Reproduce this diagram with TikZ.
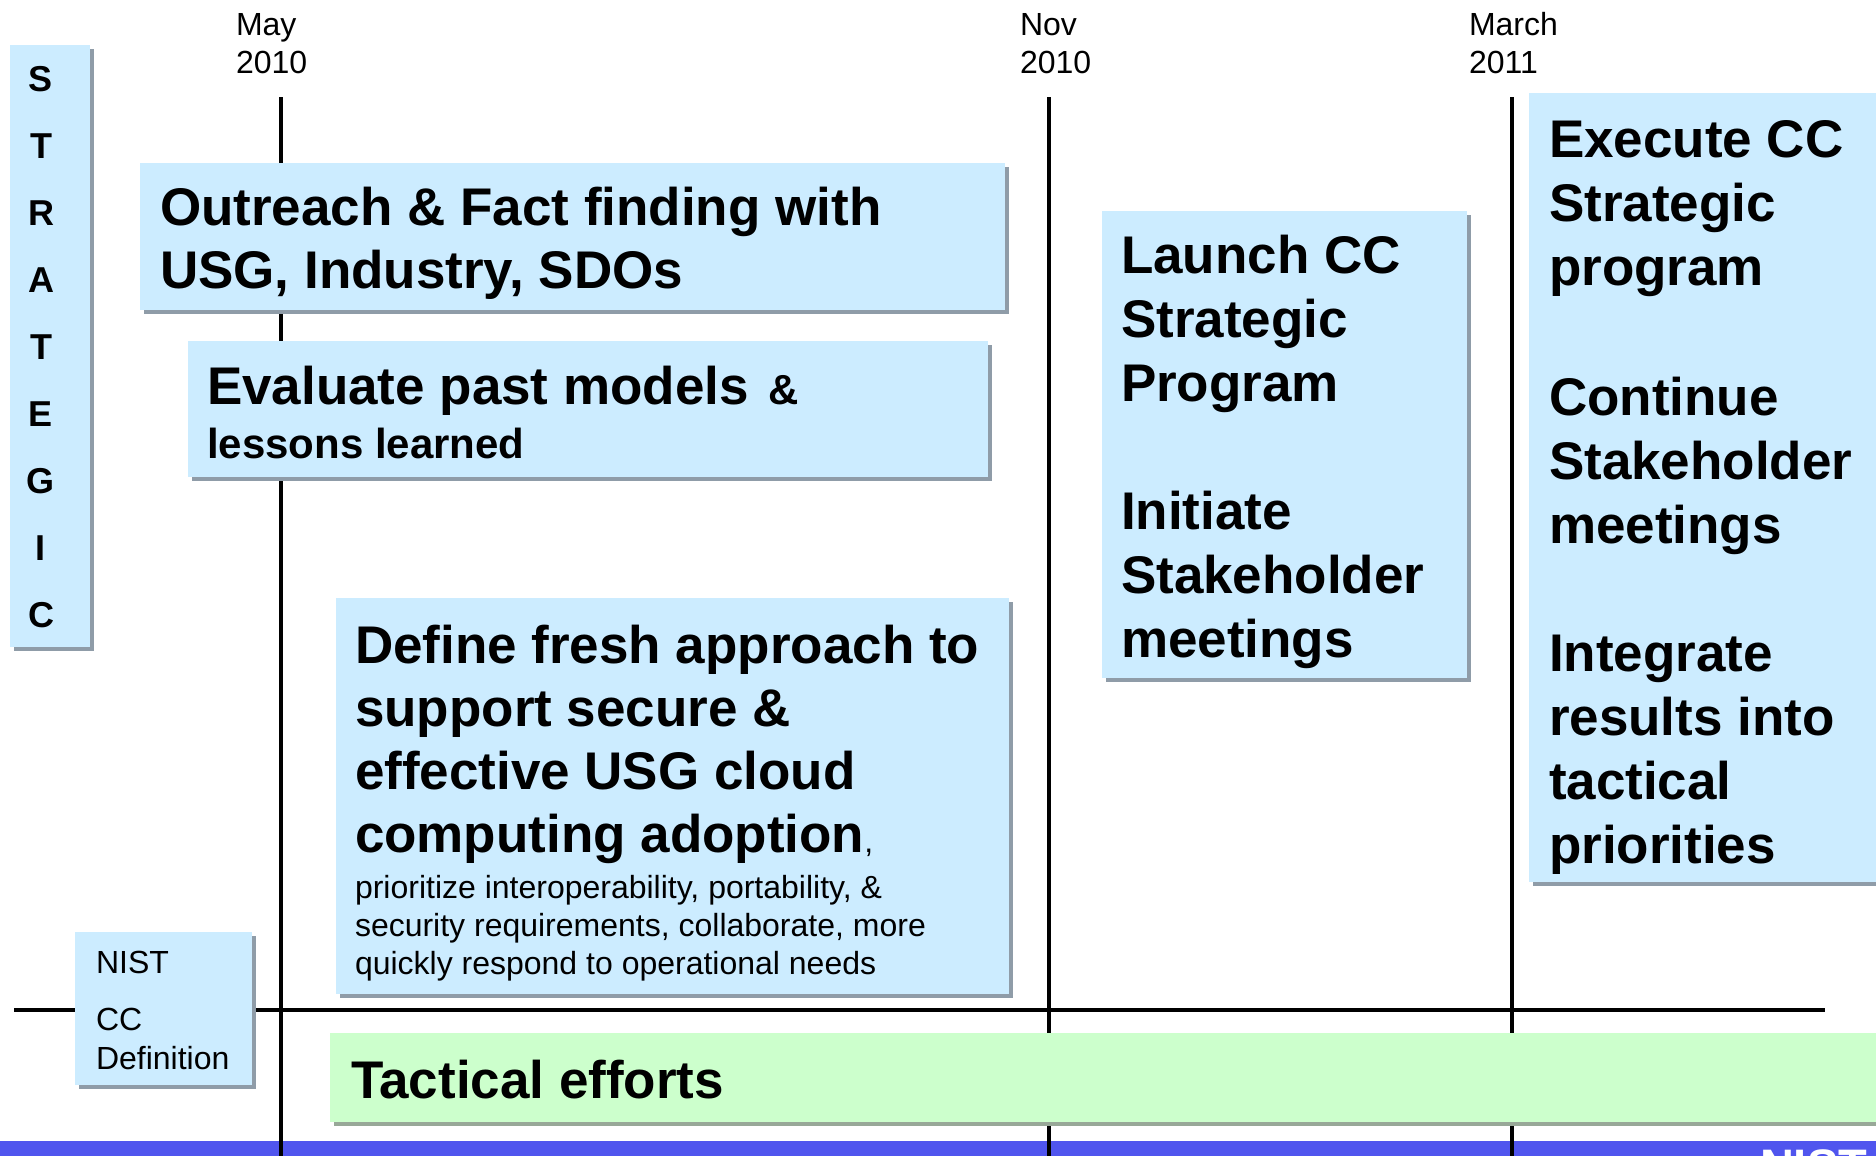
\documentclass[tikz,border=0pt]{standalone}
\usepackage{fontspec}
\setmainfont{Liberation Sans}
\usetikzlibrary{shadows}
\definecolor{boxblue}{HTML}{CCECFF}
\definecolor{boxgreen}{HTML}{CCFFCC}
\definecolor{shadowgray}{HTML}{8F9CA8}
\definecolor{greenshadow}{HTML}{98A898}
\definecolor{barblue}{HTML}{5055EE}
\definecolor{linegray}{HTML}{8C8C8C}
\newcommand{\mlines}[1]{\begin{tabular}[t]{@{}l@{}}#1\end{tabular}}
\tikzset{
  boxbase/.style={rectangle, inner sep=0pt, outer sep=0pt, anchor=north west},
  bluebox/.style={boxbase, fill=boxblue,
    drop shadow={shadow xshift=4pt, shadow yshift=-4pt, fill=shadowgray, opacity=1}},
  greenbox/.style={boxbase, fill=boxgreen,
    drop shadow={shadow xshift=4pt, shadow yshift=-4pt, fill=greenshadow, opacity=1}},
  txt/.style={anchor=base west, inner sep=0pt, outer sep=0pt},
  bigtxt/.style={txt, font=\fontsize{53}{63}\selectfont\bfseries},
  midtxt/.style={txt, font=\fontsize{42}{50}\selectfont\bfseries},
  smalltxt/.style={txt, font=\fontsize{32}{38}\selectfont},
  lettxt/.style={anchor=center, inner sep=0pt, font=\fontsize{36}{40}\selectfont\bfseries},
  railgray/.style={draw=linegray, line width=3pt},
  railblack/.style={draw=black, line width=3.4pt},
}
\begin{document}
\begin{tikzpicture}[x=1pt,y=-1pt]
\useasboundingbox (0,0) rectangle (1876,1156);
\clip (0,0) rectangle (1876,1156);

% bottom bar
\fill[barblue] (0,1141) rectangle (1876,1156);

% timeline rails
\coordinate (mayTop) at (281,97);   \coordinate (mayBot) at (281,1160);
\coordinate (novTop) at (1049,97);  \coordinate (novBot) at (1049,1160);
\coordinate (marTop) at (1512,97);  \coordinate (marBot) at (1512,1160);
\coordinate (hLeft) at (14,1010);   \coordinate (hRight) at (1825,1010);
\foreach \a/\b in {mayTop/mayBot, novTop/novBot, marTop/marBot}{
  \draw[railgray, xshift=-2pt] (\a) -- (\b);
  \draw[railblack, xshift=1.2pt, yshift=-3pt] (\a) -- (\b);
}
\draw[railgray, yshift=2.5pt] (hLeft) -- (hRight);
\draw[railblack, yshift=-1.8pt] (hLeft) -- (hRight);

% date labels
\node[smalltxt] (lblMay) at (236,35.5) {\mlines{May\\2010}};
\node[smalltxt] (lblNov) at (1020,35.5) {\mlines{Nov\\2010}};
\node[smalltxt] (lblMar) at (1469,35.5) {\mlines{March\\2011}};

% STRATEGIC column
\node[bluebox, minimum width=80pt, minimum height=602pt] (strat) at (10,45) {};
\foreach \l [count=\i] in {S,T,R,A,T,E,G,I,C}
  \node[lettxt] (s\i) at (41,{79+67*(\i-1)}) {\l};

% boxes
\node[bluebox, minimum width=865pt, minimum height=147pt] (outreach) at (140,163) {};
\node[bluebox, minimum width=800pt, minimum height=136pt] (evaluate) at (188,341) {};
\node[bluebox, minimum width=673pt, minimum height=396pt] (define) at (336,598) {};
\node[bluebox, minimum width=365pt, minimum height=467pt] (launch) at (1102,211) {};
\node[bluebox, minimum width=420pt, minimum height=789pt] (execute) at (1529,93) {};
\node[bluebox, minimum width=177pt, minimum height=153pt] (nist) at (75,932) {};
\node[greenbox, minimum width=1600pt, minimum height=89pt] (tactical) at (330,1033) {};

% texts
\node[bigtxt] (outT) at (160,225) {\mlines{Outreach \& Fact finding with\\USG, Industry, SDOs}};
\node[bigtxt] (evalT1) at (207,404) {Evaluate past models{\fontsize{42}{50}\selectfont\hspace{20pt}\&}};
\node[midtxt] (evalT2) at (207,458) {lessons learned};
\node[bigtxt] (defT) at (355,663) {\mlines{Define fresh approach to\\support secure \&\\effective USG cloud\\computing adoption{\mdseries\fontsize{32}{38}\selectfont,}}};
\node[smalltxt] (defS) at (355,898.5) {\mlines{prioritize interoperability, portability, \&\\security requirements, collaborate, more\\quickly respond to operational needs}};
\node[bigtxt, font=\fontsize{53}{64}\selectfont\bfseries] (launchT) at (1121,273)
  {\mlines{Launch CC\\Strategic\\Program\\[64pt]Initiate\\Stakeholder\\meetings}};
\node[bigtxt, font=\fontsize{53}{64}\selectfont\bfseries] (execT) at (1549,157)
  {\mlines{Execute CC\\Strategic\\program\\[66pt]Continue\\Stakeholder\\meetings\\[64pt]Integrate\\results into\\tactical\\priorities}};
\node[smalltxt] (nistT1) at (96,973.5) {NIST};
\node[smalltxt, font=\fontsize{32}{39}\selectfont] (nistT2) at (96,1030.5) {\mlines{CC\\Definition}};
\node[bigtxt] (tactT) at (351,1098) {Tactical efforts};
\node[txt, text=white, font=\fontsize{47}{50}\selectfont\bfseries] (nistBar) at (1760,1182) {NIST};
\end{tikzpicture}
\end{document}
